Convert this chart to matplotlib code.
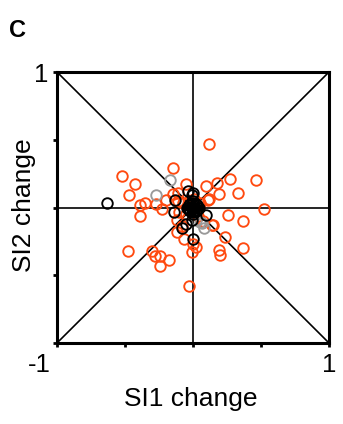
import matplotlib
matplotlib.use("Agg")
import matplotlib.pyplot as plt
import numpy as np

plt.rcParams['font.family'] = ['Liberation Sans', 'DejaVu Sans']

# SI change per cell, grouped by class
orange_x = [0.12, -0.145, -0.52, -0.43, -0.47, -0.39, -0.35, -0.27, -0.23, -0.20,
            -0.39, -0.145, -0.108, -0.05, 0.096, 0.174, 0.27, 0.46, 0.19, 0.33,
            0.12, 0.52, 0.255, 0.37, 0.15, 0.235, 0.37, 0.19, 0.20, 0.02,
            -0.01, -0.027, -0.48, -0.30, -0.28, -0.24, -0.24, -0.18, -0.12, -0.066,
            -0.08, -0.12, 0.0, 0.076, -0.11, -0.07, 0.01, -0.05, 0.05, -0.03,
            0.04, -0.10, 0.11, 0.14]
orange_y = [0.47, 0.29, 0.23, 0.17, 0.09, 0.02, 0.035, 0.026, -0.013, 0.055,
            -0.06, 0.10, 0.11, 0.17, 0.16, 0.18, 0.21, 0.20, 0.097, 0.11,
            0.06, -0.01, -0.055, -0.10, -0.13, -0.22, -0.30, -0.31, -0.35, -0.29,
            -0.325, -0.58, -0.32, -0.32, -0.36, -0.36, -0.43, -0.39, -0.18, -0.23,
            -0.14, -0.09, -0.27, -0.10, 0.05, 0.03, 0.06, -0.05, 0.03, 0.05,
            -0.06, -0.03, 0.055, -0.13]

grey_x = [-0.17, -0.27, 0.05, 0.08, 0.02, 0.064]
grey_y = [0.20, 0.09, -0.11, -0.15, -0.09, -0.116]

black_x = [-0.63, -0.035, -0.01, -0.13, -0.14, 0.093, -0.083, 0.0, -0.01, 0.0, -0.05,
           0.0, 0.035, -0.035, 0.0, 0.0, 0.025, -0.025, 0.025, -0.025, 0.045, -0.045, 0.0, 0.0,
           0.01, -0.01, 0.015, -0.015, 0.03, -0.03, 0.03, -0.03]
black_y = [0.035, 0.12, 0.09, 0.055, -0.03, -0.055, -0.15, -0.23, -0.09, 0.105, -0.12,
           0.0, 0.0, 0.0, 0.035, -0.035, 0.025, 0.025, -0.025, -0.025, 0.0, 0.0, 0.045, -0.045,
           0.01, -0.01, -0.005, 0.005, 0.015, 0.015, -0.015, -0.015]

fig = plt.figure(figsize=(3.43, 4.24), dpi=100)
ax = fig.add_axes([57/343, 1 - 343/424, 272/343, 271/424])

# guide lines: diagonals and the two zero lines
ax.plot([-1, 1], [-1, 1], color='black', lw=1.2, zorder=1)
ax.plot([-1, 1], [1, -1], color='black', lw=1.2, zorder=1)
ax.axhline(0, color='black', lw=1.2, zorder=1)
ax.axvline(0, color='black', lw=1.2, zorder=1)

mk = dict(marker='o', ls='none', mfc='none', ms=7.6, mew=1.35)
ax.plot(orange_x, orange_y, mec='#ff4a10', zorder=2, **mk)
ax.plot(grey_x, grey_y, mec='#9a9a9a', zorder=3, **mk)
ax.plot(black_x, black_y, mec='black', zorder=4, **mk)

ax.set_xlim(-1, 1)
ax.set_ylim(-1, 1)
ticks = [-1, -0.5, 0, 0.5, 1]
ax.set_xticks(ticks)
ax.set_yticks(ticks)
ax.set_xticklabels(['', '', '', '', '1'])
ax.set_yticklabels(['', '', '', '', '1'])
ax.tick_params(direction='out', length=3, width=2, labelsize=18.5, pad=4)
ax.tick_params(axis='y', pad=3.5)
for s in ax.spines.values():
    s.set_linewidth(2.2)

ax.annotate('-1', xy=(-1, 0), xycoords=('data', 'axes fraction'),
            xytext=(-4.5, -7), textcoords='offset points',
            ha='right', va='top', fontsize=18.5, annotation_clip=False)

fig.text(191/343, 1 - 399/424, 'SI1 change', ha='center', va='center', fontsize=19)
fig.text(24/343, 1 - 205/424, 'SI2 change', ha='center', va='center',
         rotation=90, fontsize=19)
fig.text(9/343, 1 - 37/424, 'C', ha='left', va='baseline', fontsize=17,
         fontweight='bold')

fig.savefig('out.png', dpi=100)
